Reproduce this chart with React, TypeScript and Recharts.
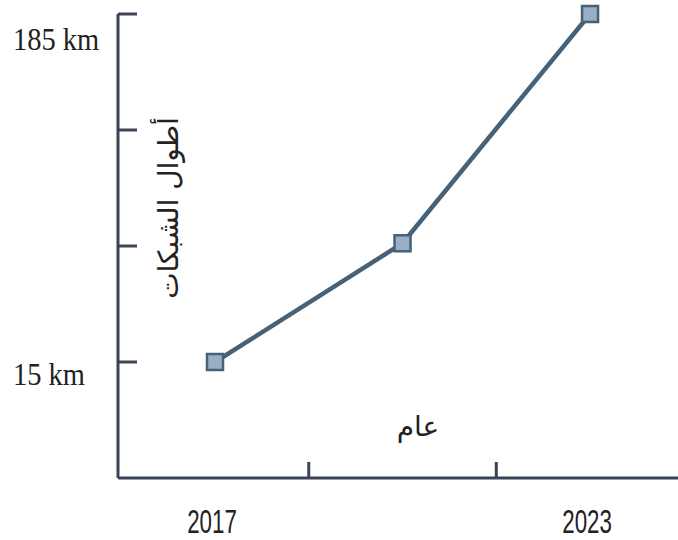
import { Line, LineChart, XAxis, YAxis } from "recharts";

// years along the bottom (middle one is not labelled in the source)
const years = ["2017", "2020", "2023"];
const networkKm = [15, 73, 185];
const labelledYears = ["2017", "2023"];
const labelledKm = [15, 185];

const yStep = (185 - 15) / 3;
const yTicks = [15, 15 + yStep, 15 + 2 * yStep, 185];
const xTicks = [1, 1.5, 2.5, 3];

const data = years.map((year, i) => ({ pos: i + 1, year, km: networkKm[i] }));

const AXIS = "#3b4357";
const LINE = "#456279";
const FILL = "#98afc5";

function YTick(props: any) {
	const { x, y, payload } = props;
	const value = Math.round(payload.value);
	return (
		<g>
			<line x1={x} y1={y} x2={x + 19} y2={y} stroke={AXIS} strokeWidth={3} />
			{labelledKm.includes(value) && (
				<text
					transform={`translate(${x - 105},${y + (value === 185 ? 36 : 23)}) scale(0.89,1)`}
					fontFamily="Liberation Serif"
					fontSize={32}
					fill="#222"
				>
					{`${value} km`}
				</text>
			)}
		</g>
	);
}

function XTick(props: any) {
	const { x, y, payload } = props;
	const v = payload.value;
	if (Number.isInteger(v)) {
		const year = years[v - 1];
		if (!labelledYears.includes(year)) return <g />;
		return (
			<text
				transform={`translate(${x - 3},${y + 55}) scale(0.72,1.05)`}
				textAnchor="middle"
				fontFamily="Liberation Sans"
				fontSize={31}
				fill="#222"
			>
				{year}
			</text>
		);
	}
	return <line x1={x} y1={y} x2={x} y2={y - 16} stroke={AXIS} strokeWidth={3} />;
}

function SquareDot(props: any) {
	const { cx, cy } = props;
	return (
		<rect x={cx - 8} y={cy - 8} width={16} height={16} fill={FILL} stroke={LINE} strokeWidth={2.5} />
	);
}

export default function App() {
	return (
		<div style={{ position: "absolute", left: 0, top: 0 }}>
			<LineChart width={678} height={540} data={data} margin={{ top: 14, right: 0, bottom: 32, left: 78 }}>
				<XAxis
					type="number"
					dataKey="pos"
					domain={[0.4827, 3.469]}
					ticks={xTicks}
					allowDataOverflow
					height={30}
					axisLine={{ stroke: AXIS, strokeWidth: 3 }}
					tickLine={false}
					tickSize={0}
					tickMargin={0}
					tick={<XTick />}
					interval={0}
					label={{
						content: (p: any) => (
							<text
								x={418}
								y={p.viewBox.y - 42}
								textAnchor="middle"
								fontFamily="DejaVu Sans"
								fontSize={28}
								fill="#222"
							>
								عام
							</text>
						),
					}}
				/>
				<YAxis
					type="number"
					domain={[15 - yStep, 185]}
					ticks={yTicks}
					width={40}
					axisLine={{ stroke: AXIS, strokeWidth: 3 }}
					tickLine={false}
					tickSize={0}
					tickMargin={0}
					tick={<YTick />}
					interval={0}
					label={{
						content: () => (
							<text
								transform="translate(168,208) rotate(-90)"
								textAnchor="middle"
								dominantBaseline="central"
								fontFamily="DejaVu Sans"
								fontSize={28}
								fill="#222"
							>
								أطوال الشبكات
							</text>
						),
					}}
				/>
				<Line
					type="linear"
					dataKey="km"
					stroke={LINE}
					strokeWidth={4.5}
					dot={<SquareDot />}
					activeDot={false}
					isAnimationActive={false}
				/>
			</LineChart>
		</div>
	);
}
